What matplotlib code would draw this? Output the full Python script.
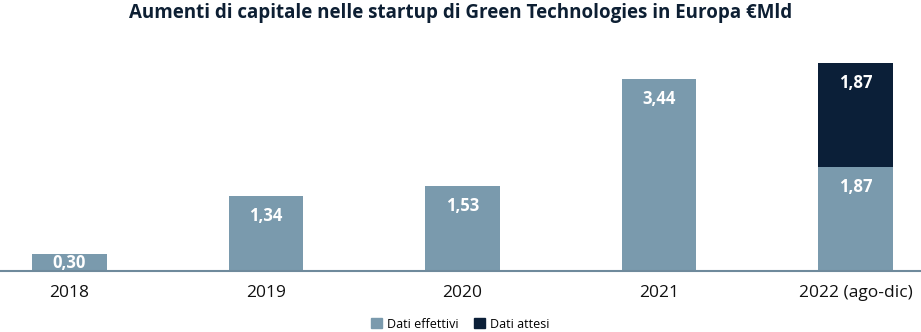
import matplotlib.pyplot as plt
from matplotlib.patches import Patch

# Data
years = ['2018', '2019', '2020', '2021', '2022 (ago-dic)']
effettivi = [0.30, 1.34, 1.53, 3.44, 1.87]
attesi = [0.0, 0.0, 0.0, 0.0, 1.87]

col_eff = '#7a9aad'
col_att = '#0b1f38'
title_col = '#0d1f33'

plt.rcParams['font.family'] = ['Open Sans', 'DejaVu Sans']

fig = plt.figure(figsize=(9.21, 3.32), dpi=100)
ax = fig.add_axes([0, 0.1837, 1, 0.6958])

x = list(range(len(years)))
w = 0.38
ax.bar(x, effettivi, width=w, color=col_eff, zorder=2)
ax.bar(x, attesi, width=w, bottom=effettivi, color=col_att, zorder=2)

ax.set_xlim(-0.354, 4.333)
ax.set_ylim(0, 4.147)

off = 0.36
for xi, v in zip(x, effettivi):
    ax.text(xi, v - min(off, v / 2), f'{v:.2f}'.replace('.', ','), ha='center', va='center',
            color='white', fontsize=12, fontweight='bold', zorder=3)
for xi, b, v in zip(x, effettivi, attesi):
    if v > 0:
        top = b + v
        ax.text(xi, top - off, f'{v:.2f}'.replace('.', ','), ha='center', va='center',
                color='white', fontsize=12, fontweight='bold', zorder=3)

for s in ['top', 'right', 'left']:
    ax.spines[s].set_visible(False)
ax.spines['bottom'].set_color('#6f8a9c')
ax.spines['bottom'].set_linewidth(1.5)
ax.set_yticks([])
ax.set_xticks(x)
ax.set_xticklabels(years, fontsize=12.5, color='#111111')
ax.tick_params(axis='x', length=0, pad=10)

fig.text(0.5, 0.962, 'Aumenti di capitale nelle startup di Green Technologies in Europa €Mld',
         ha='center', va='center', fontsize=13.5, fontweight='bold', color=title_col)

handles = [Patch(color=col_eff, label='Dati effettivi'), Patch(color=col_att, label='Dati attesi')]
fig.legend(handles=handles, loc='center', bbox_to_anchor=(0.5, 0.024), ncol=2, frameon=False,
           fontsize=9, handlelength=0.9, handleheight=0.9, handletextpad=0.4, columnspacing=1.2)

fig.savefig('out.png', dpi=100)
